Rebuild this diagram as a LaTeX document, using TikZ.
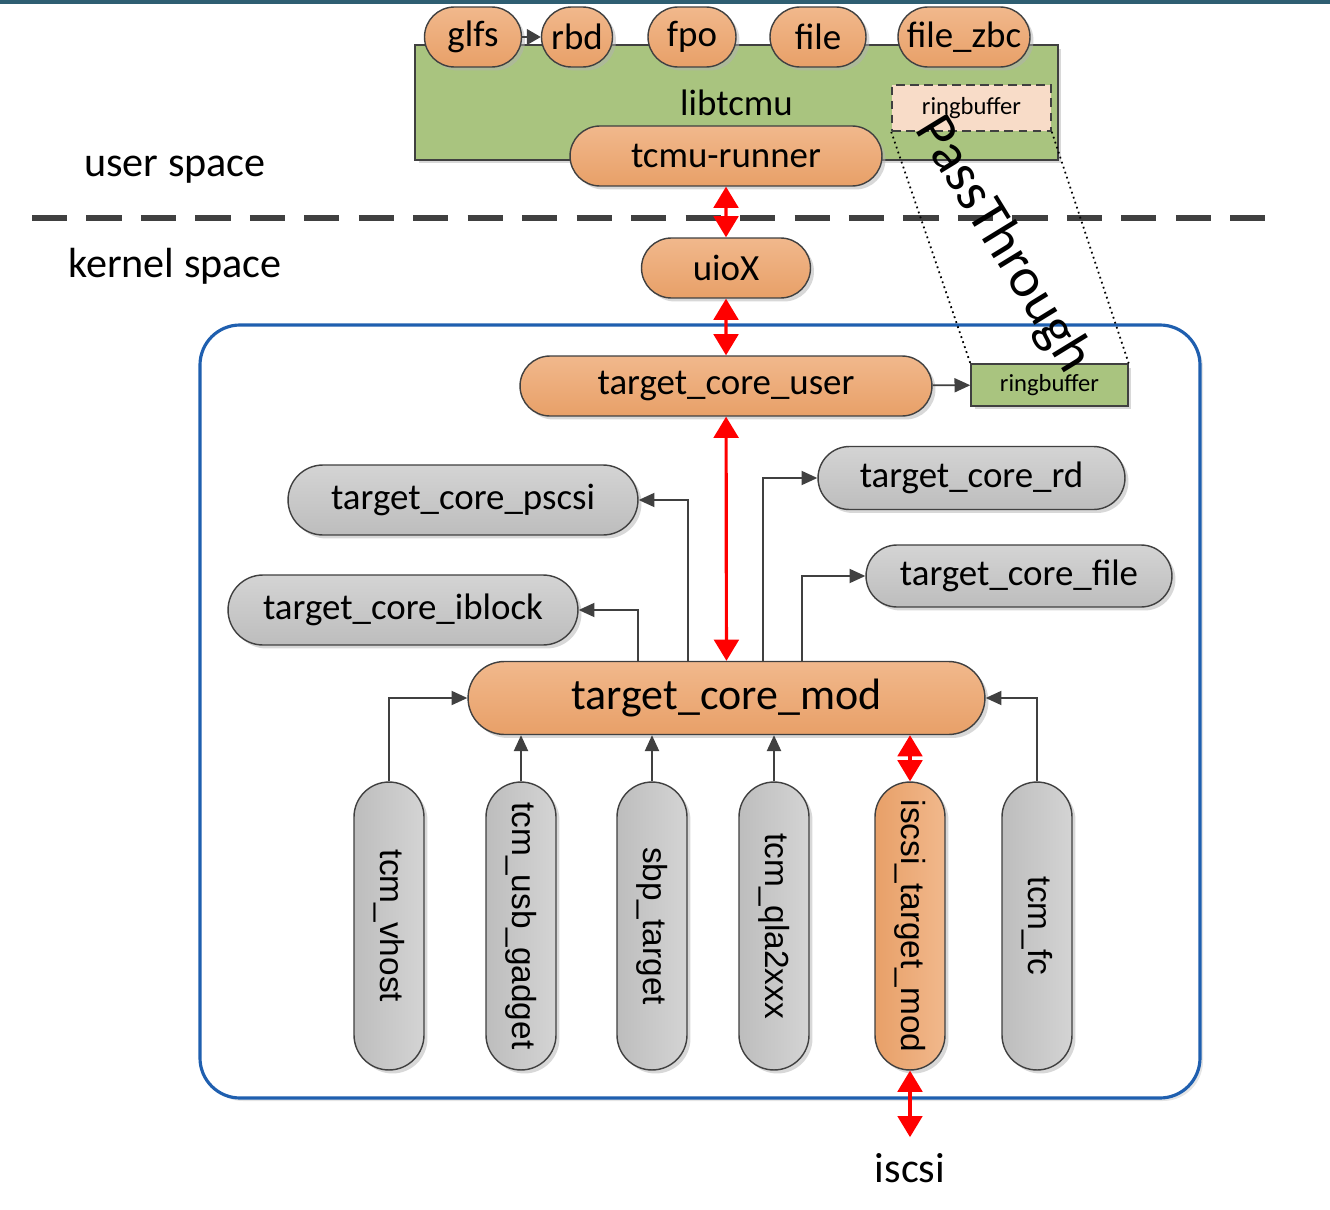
\documentclass[tikz,border=0pt]{standalone}
\usepackage{fontspec}
\setmainfont{Carlito}
\newfontfamily\arialfont{Liberation Sans}
\usetikzlibrary{shapes.misc, arrows.meta, shadows}
\definecolor{orangetop}{HTML}{F1B88C}
\definecolor{orangebot}{HTML}{E8A068}
\definecolor{graytop}{HTML}{D4D4D4}
\definecolor{graybot}{HTML}{BDBDBD}
\definecolor{libgreen}{HTML}{A9C47F}
\definecolor{ringpeach}{HTML}{F8DCC8}
\definecolor{boxblue}{HTML}{1F5FAF}
\definecolor{edgegray}{HTML}{404040}
\definecolor{topline}{HTML}{2E5E72}
\tikzstyle{shade} = [drop shadow={shadow xshift=0.07cm, shadow yshift=-0.07cm, fill=black!30}]
\tikzstyle{pill} = [rounded rectangle, draw=edgegray, line width=0.8pt, top color=orangetop, bottom color=orangebot, shade, inner sep=0pt, minimum height=1.2cm, font=\fontsize{21}{24}\selectfont]
\tikzstyle{greypill} = [pill, top color=graytop, bottom color=graybot, minimum height=1.4cm]
\tikzstyle{vpill} = [rectangle, rounded corners=0.7cm, draw=edgegray, line width=0.8pt, left color=graybot, right color=graytop, shade, inner sep=0pt, minimum width=1.4cm, minimum height=5.76cm, font=\arialfont\fontsize{19}{22}\selectfont]
\tikzstyle{label} = [font=\fontsize{24}{28}\selectfont]
\tikzstyle{arrow} = [line width=1pt, draw=edgegray, -{Triangle[length=9pt,width=8pt]}]
\tikzstyle{redarrow} = [line width=1.8pt, red, {Triangle[length=12pt,width=14pt]}-{Triangle[length=12pt,width=14pt]}]

\begin{document}
\begin{tikzpicture}[x=0.02cm, y=-0.02cm]
        \useasboundingbox (0,0) rectangle (1330,1210);
        \draw[topline, line width=3pt] (0,1) -- (1330,1);

        % kernel box and the user/kernel split
        \draw[boxblue, line width=1.8pt, rounded corners=0.8cm, fill=white, drop shadow={shadow xshift=0.06cm, shadow yshift=-0.06cm, fill=black!20}] (200,325) rectangle (1200,1098);
        \draw[edgegray, line width=3pt, dash pattern=on 20pt off 11pt] (32,218) -- (1280,218);
        \node (user) [label] at (175,170) {user space};
        \node (kernel) [label] at (175,266) {kernel space};

        % user space
        \node (libtcmu) [rectangle, draw=edgegray, line width=0.8pt, fill=libgreen, shade, minimum width=12.86cm, minimum height=2.3cm, font=\fontsize{21}{24}\selectfont] at (736.5,102.5) {libtcmu};
        \node (glfs) [pill, minimum width=1.94cm] at (473,37) {glfs};
        \node (rbd) [pill, minimum width=1.42cm] at (577,37) {rbd};
        \node (fpo) [pill, minimum width=1.76cm] at (692,37) {fpo};
        \node (file) [pill, minimum width=1.92cm] at (818,37) {file};
        \node (filezbc) [pill, minimum width=2.64cm] at (964,37) {file\_zbc};
        \draw [arrow, -{Triangle[length=8pt,width=9pt]}] (glfs) -- (rbd);
        \node (ringuser) [rectangle, draw=edgegray, dash pattern=on 5pt off 3pt, line width=0.9pt, fill=ringpeach, minimum width=3.18cm, minimum height=0.92cm, font=\fontsize{14}{16}\selectfont] at (971.5,108) {ringbuffer};
        \node (runner) [pill, minimum width=6.24cm] at (726,156) {tcmu-runner};

        % kernel space
        \node (uiox) [pill, minimum width=3.38cm] at (726,268) {uioX};
        \node (tcuser) [pill, minimum width=8.24cm] at (726,386) {target\_core\_user};
        \node (ringkern) [rectangle, draw=edgegray, line width=0.8pt, fill=libgreen, shade, minimum width=3.14cm, minimum height=0.84cm, font=\fontsize{14}{16}\selectfont] at (1049.5,385) {ringbuffer};
        \draw [arrow] (tcuser) -- (ringkern);
        \draw [dotted, line width=1pt] (ringuser.south west) -- (ringkern.north west);
        \draw [dotted, line width=1pt] (ringuser.south east) -- (ringkern.north east);
        \node (pass) [rotate=-58.5, font=\fontsize{32}{36}\selectfont] at (1003,245) {PassThrough};

        \draw [redarrow] (runner) -- (uiox);
        \draw [redarrow] (uiox) -- (tcuser);

        \node (pscsi) [greypill, minimum width=7cm] at (463,500) {target\_core\_pscsi};
        \node (rd) [greypill, minimum width=6.14cm, minimum height=1.26cm] at (971.5,478) {target\_core\_rd};
        \node (tcfile) [greypill, minimum width=6.12cm, minimum height=1.24cm] at (1019,576) {target\_core\_file};
        \node (iblock) [greypill, minimum width=7cm] at (403,610) {target\_core\_iblock};
        \node (mod) [pill, minimum width=10.34cm, minimum height=1.46cm, font=\fontsize{25}{28}\selectfont] at (726.5,698) {target\_core\_mod};

        \draw [redarrow] (tcuser) -- (mod);
        \draw [arrow] ([xshift=-1.77cm]mod.north) |- (iblock.east);
        \draw [arrow] ([xshift=-0.77cm]mod.north) |- (pscsi.east);
        \draw [arrow] ([xshift=0.73cm]mod.north) |- (rd.west);
        \draw [arrow] ([xshift=1.51cm]mod.north) |- (tcfile.west);

        % fabric modules
        \node (vhost) [vpill] at (389,926) {\rotatebox{-90}{tcm\_vhost}};
        \node (usb) [vpill] at (521,926) {\rotatebox{-90}{tcm\_usb\_gadget}};
        \node (sbp) [vpill] at (652,926) {\rotatebox{-90}{sbp\_target}};
        \node (qla) [vpill] at (774,926) {\rotatebox{-90}{tcm\_qla2xxx}};
        \node (iscsimod) [vpill, left color=orangebot, right color=orangetop] at (910,926) {\rotatebox{-90}{iscsi\_target\_mod}};
        \node (fc) [vpill] at (1037,926) {\rotatebox{-90}{tcm\_fc}};

        \draw [arrow] (vhost.north) |- (mod.west);
        \draw [arrow] (usb.north) -- (usb.north |- mod.south);
        \draw [arrow] (sbp.north) -- (sbp.north |- mod.south);
        \draw [arrow] (qla.north) -- (qla.north |- mod.south);
        \draw [redarrow] (iscsimod.north) -- (iscsimod.north |- mod.south);
        \draw [arrow] (fc.north) |- (mod.east);

        \node (iscsi) [label] at (910,1168) {iscsi};
        \draw [redarrow, shorten >=0.2cm] (iscsimod.south) -- (iscsi.north);
\end{tikzpicture}
\end{document}
